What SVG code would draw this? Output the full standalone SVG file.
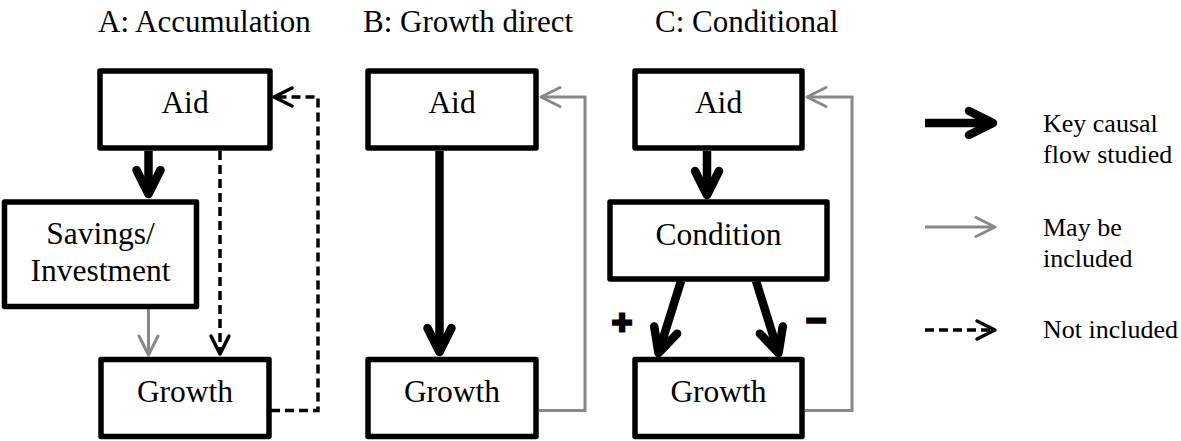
<svg xmlns="http://www.w3.org/2000/svg" width="1181" height="441" viewBox="0 0 1181 441">
  <style>
    .box { fill: #fff; stroke: #000; stroke-width: 5.5; stroke-linejoin: round; }
    .lbl { font-size: 31.5px; fill: #000; text-anchor: middle; }
    .title { font-size: 31px; fill: #000; }
    .leg { font-size: 26px; fill: #000; }
    .sign { font-weight: bold; font-size: 27px; fill: #000; stroke: #000; stroke-width: 3.2; text-anchor: middle; }
    .key { fill: none; stroke: #000; stroke-width: 8.5; }
    .may { fill: none; stroke: #888; stroke-width: 3; }
    .not { fill: none; stroke: #000; stroke-width: 3.5; stroke-dasharray: 9 5; }
  </style>
  <defs>
    <marker id="mk-key" markerUnits="userSpaceOnUse" orient="auto" refX="0" refY="0" markerWidth="1" markerHeight="1" overflow="visible">
      <path d="M-24,-12 L0,0 L-24,12" fill="none" stroke="#000" stroke-width="8.5" stroke-linecap="round" stroke-linejoin="round"/>
    </marker>
    <marker id="mk-may" markerUnits="userSpaceOnUse" orient="auto" refX="0" refY="0" markerWidth="1" markerHeight="1" overflow="visible">
      <path d="M-19,-9.5 L0,0 L-19,9.5" fill="none" stroke="#888" stroke-width="3" stroke-linecap="round" stroke-linejoin="round"/>
    </marker>
    <marker id="mk-not" markerUnits="userSpaceOnUse" orient="auto" refX="0" refY="0" markerWidth="1" markerHeight="1" overflow="visible">
      <path d="M-18,-9 L0,0 L-18,9" fill="none" stroke="#000" stroke-width="3.5" stroke-linecap="round" stroke-linejoin="round"/>
    </marker>
  </defs>
  <rect width="1181" height="441" fill="#fff"/>

  <g id="titles" font-family="'Liberation Serif', 'Times New Roman', serif">
    <text class="title" x="98" y="32">A: Accumulation</text>
    <text class="title" x="363" y="32">B: Growth direct</text>
    <text class="title" x="655" y="32">C: Conditional</text>
  </g>

  <g id="connectors">
    <path class="key" d="M148.5,151 V194" marker-end="url(#mk-key)"/>
    <path class="may" d="M148.5,309 V355" marker-end="url(#mk-may)"/>
    <path class="not" d="M220,151 V354" marker-end="url(#mk-not)"/>
    <path class="not" d="M271,410.5 H318 V97 H274" marker-end="url(#mk-not)"/>
    <path class="key" d="M439.5,151 V352" marker-end="url(#mk-key)"/>
    <path class="may" d="M539,410.5 H585 V97 H541" marker-end="url(#mk-may)"/>
    <path class="key" d="M707,151 V195" marker-end="url(#mk-key)"/>
    <path class="key" d="M681,281 L658.5,353" marker-end="url(#mk-key)"/>
    <path class="key" d="M756,281 L778.5,353" marker-end="url(#mk-key)"/>
    <path class="may" d="M805,410.5 H852 V97 H807" marker-end="url(#mk-may)"/>
  </g>

  <g id="nodes" font-family="'Liberation Serif', 'Times New Roman', serif">
    <g id="a-aid"><rect class="box" x="100" y="71" width="170" height="77"/><text class="lbl" x="185" y="113">Aid</text></g>
    <g id="a-savings"><rect class="box" x="4.5" y="202" width="192" height="104.5"/><text class="lbl" x="100.5" y="243.5">Savings/</text><text class="lbl" x="100.5" y="280.5">Investment</text></g>
    <g id="a-growth"><rect class="box" x="101" y="359.5" width="168" height="77"/><text class="lbl" x="185" y="401.5">Growth</text></g>
    <g id="b-aid"><rect class="box" x="368" y="71" width="168" height="77"/><text class="lbl" x="452" y="113">Aid</text></g>
    <g id="b-growth"><rect class="box" x="368" y="359.5" width="168" height="77"/><text class="lbl" x="452" y="401.5">Growth</text></g>
    <g id="c-aid"><rect class="box" x="635" y="71" width="167" height="77"/><text class="lbl" x="718.5" y="113">Aid</text></g>
    <g id="c-condition"><rect class="box" x="610" y="202" width="217" height="77"/><text class="lbl" x="718.5" y="245">Condition</text></g>
    <g id="c-growth"><rect class="box" x="635" y="359.5" width="167" height="77"/><text class="lbl" x="718.5" y="401.5">Growth</text></g>
  </g>

  <g id="signs" font-family="'DejaVu Sans', sans-serif">
    <text class="sign" x="622" y="331">+</text>
    <text class="sign" x="816" y="329">−</text>
  </g>

  <g id="legend" font-family="'Liberation Serif', 'Times New Roman', serif">
    <path class="key" d="M925,123 H993" marker-end="url(#mk-key)"/>
    <text class="leg" x="1043" y="131.5">Key causal</text>
    <text class="leg" x="1043" y="163">flow studied</text>
    <path class="may" d="M925,227 H995" marker-end="url(#mk-may)"/>
    <text class="leg" x="1043" y="235.5">May be</text>
    <text class="leg" x="1043" y="267">included</text>
    <path class="not" d="M925,330 H995" marker-end="url(#mk-not)"/>
    <text class="leg" x="1043" y="338">Not included</text>
  </g>
</svg>
